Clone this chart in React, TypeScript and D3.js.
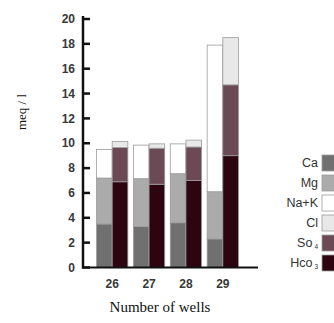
import React from "react";
import * as d3 from "d3";

// wells on the x axis
const wells = ["26", "27", "28", "29"];

// cations (left bar of each pair), meq/l
const ca = [3.5, 3.3, 3.6, 2.3];
const mg = [3.7, 3.85, 3.95, 3.8];
const naK = [2.3, 2.7, 2.4, 11.8];

// anions (right bar of each pair), meq/l
const hco3 = [6.9, 6.7, 7.0, 9.0];
const so4 = [2.75, 2.9, 2.7, 5.7];
const cl = [0.5, 0.35, 0.55, 3.8];

const yTicks = [0, 2, 4, 6, 8, 10, 12, 14, 16, 18, 20];

const colors: Record<string, string> = {
  Ca: "#707070",
  Mg: "#ababab",
  NaK: "#ffffff",
  Cl: "#e8e8e8",
  So4: "#6b4a56",
  Hco3: "#2c0511",
};

const W = 334;
const H = 323;

export default function App() {
  const rows = wells.map((w, i) => ({
    well: w,
    Ca: ca[i],
    Mg: mg[i],
    NaK: naK[i],
    Hco3: hco3[i],
    So4: so4[i],
    Cl: cl[i],
  }));

  const x = d3.scaleBand().domain(wells).range([96.5, 238.5]).paddingInner(0.15).paddingOuter(0);
  const y = d3.scaleLinear().domain([0, 20]).range([267.5, 19]);
  const half = x.bandwidth() / 2;

  const leftStack = d3.stack<any>().keys(["Ca", "Mg", "NaK"])(rows);
  const rightStack = d3.stack<any>().keys(["Hco3", "So4", "Cl"])(rows);

  const legend = [
    { key: "Ca", label: "Ca", sub: "" },
    { key: "Mg", label: "Mg", sub: "" },
    { key: "NaK", label: "Na+K", sub: "" },
    { key: "Cl", label: "Cl", sub: "" },
    { key: "So4", label: "So", sub: "4" },
    { key: "Hco3", label: "Hco", sub: "3" },
  ];

  const font = "'Liberation Sans', Arial, sans-serif";

  return (
    <svg width={W} height={H} style={{ position: "absolute", left: 0, top: 0, background: "#fff" }}>
      {/* bars */}
      {leftStack.map((layer) =>
        layer.map((d, i) => (
          <rect
            key={"l" + layer.key + i}
            x={x(wells[i])!}
            y={y(d[1])}
            width={half}
            height={y(d[0]) - y(d[1])}
            fill={colors[layer.key]}
            stroke="#9c9c9c"
            strokeWidth={0.8}
          />
        ))
      )}
      {rightStack.map((layer) =>
        layer.map((d, i) => (
          <rect
            key={"r" + layer.key + i}
            x={x(wells[i])! + half}
            y={y(d[1])}
            width={half}
            height={y(d[0]) - y(d[1])}
            fill={colors[layer.key]}
            stroke="#9c9c9c"
            strokeWidth={0.8}
          />
        ))
      )}

      {/* y axis */}
      <line x1={83} x2={83} y1={y(20) - 3} y2={y(0) + 1} stroke="#111" strokeWidth={2.5} />
      {yTicks.map((t) => (
        <g key={t}>
          <line x1={83} x2={90} y1={y(t)} y2={y(t)} stroke="#111" strokeWidth={2.5} />
          <text
            x={75}
            y={y(t)}
            dy="0.35em"
            textAnchor="end"
            fontFamily={font}
            fontWeight="bold"
            fontSize={12}
            fill="#383838"
          >
            {t}
          </text>
        </g>
      ))}

      {/* x axis */}
      <line x1={82} x2={258} y1={y(0)} y2={y(0)} stroke="#111" strokeWidth={2} />
      {wells.map((w) => (
        <text
          key={w}
          x={x(w)! + half}
          y={287.5}
          textAnchor="middle"
          fontFamily={font}
          fontWeight="bold"
          fontSize={12}
          fill="#383838"
        >
          {w}
        </text>
      ))}

      {/* axis titles */}
      <text
        transform="translate(26,112) rotate(-90)"
        textAnchor="middle"
        fontFamily="'Liberation Serif', 'Times New Roman', serif"
        fontSize={13}
        fill="#111"
      >
        meq / l
      </text>
      <text
        x={160}
        y={312}
        textAnchor="middle"
        fontFamily="'Liberation Serif', 'Times New Roman', serif"
        fontSize={15}
        fill="#111"
      >
        Number of wells
      </text>

      {/* legend */}
      {legend.map((l, i) => {
        const cy = 163 + i * 20;
        return (
          <g key={l.key}>
            <text x={318} y={cy} dy="0.35em" textAnchor="end" fontFamily={font} fontSize={12.5} fill="#333">
              {l.label}
              {l.sub && (
                <tspan fontSize={6.5} dx={2} dy={2}>
                  {l.sub}
                </tspan>
              )}
            </text>
            <rect x={322} y={cy - 8} width={16} height={16} fill={colors[l.key]} stroke="#9c9c9c" strokeWidth={0.8} />
          </g>
        );
      })}
    </svg>
  );
}
